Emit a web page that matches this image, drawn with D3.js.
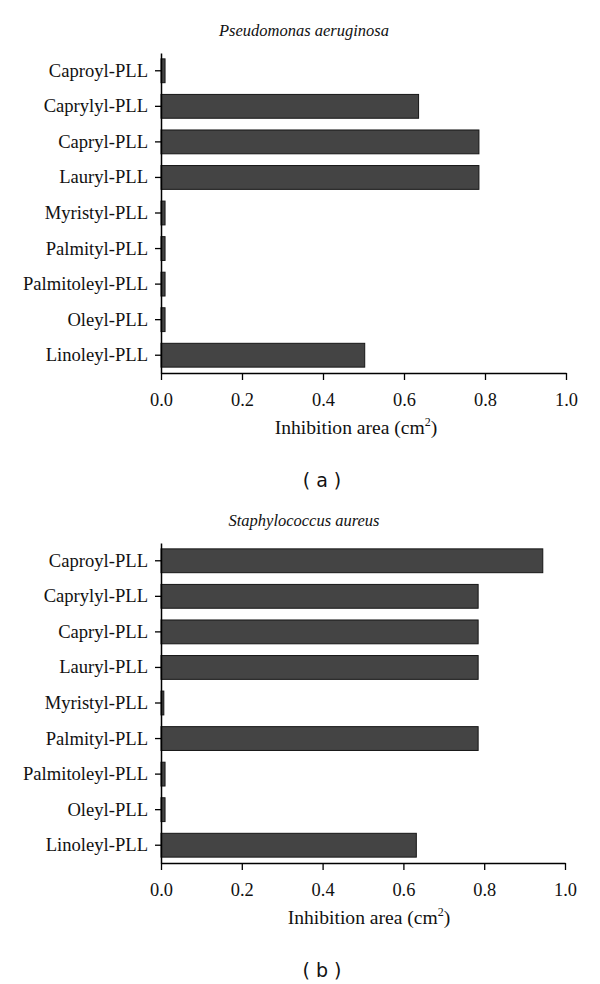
<!DOCTYPE html>
<html>
<head>
<meta charset="utf-8">
<script src="https://cdn.jsdelivr.net/npm/d3@7"></script>
<style>
  body { margin: 0; background: #fff; }
  svg { display: block; }
</style>
</head>
<body>
<div id="chart"></div>
<script>
  var categories = ['Caproyl-PLL', 'Caprylyl-PLL', 'Capryl-PLL', 'Lauryl-PLL', 'Myristyl-PLL',
    'Palmityl-PLL', 'Palmitoleyl-PLL', 'Oleyl-PLL', 'Linoleyl-PLL'];
  var valuesA = [0.01, 0.636, 0.785, 0.785, 0.01, 0.01, 0.01, 0.01, 0.503];
  var valuesB = [0.945, 0.785, 0.785, 0.785, 0.007, 0.785, 0.01, 0.01, 0.632];
  var xTicks = [0, 0.2, 0.4, 0.6, 0.8, 1.0];
  var titles = ['Pseudomonas aeruginosa', 'Staphylococcus aureus'];
  var captions = ['( a )', '( b )'];

  var serif = '"Liberation Serif", "DejaVu Serif", serif';

  var svg = d3.select('#chart')
    .append('svg')
    .attr('width', 600)
    .attr('height', 984);

  // one panel: top is the y position where the axis starts
  function drawPanel(values, title, caption, top, xRight, labelX) {
    var g = svg.append('g');
    var x = d3.scaleLinear().domain([0, 1]).range([161, xRight]);
    var y = d3.scaleBand()
      .domain(categories)
      .range([top, top + 320])
      .paddingInner(0.33)
      .paddingOuter(0.165);

    var rows = categories.map(function (c, i) { return { cat: c, val: values[i] }; });

    g.append('text')
      .attr('x', 304)
      .attr('y', top - 17)
      .attr('text-anchor', 'middle')
      .style('font-family', serif)
      .style('font-style', 'italic')
      .style('font-size', '16.5px')
      .attr('fill', '#111')
      .text(title);

    g.selectAll('.bar')
      .data(rows)
      .enter()
      .append('rect')
      .attr('class', 'bar')
      .attr('x', x(0))
      .attr('y', function (d) { return y(d.cat); })
      .attr('width', function (d) { return x(d.val) - x(0); })
      .attr('height', y.bandwidth())
      .attr('fill', '#444')
      .attr('stroke', '#161616')
      .attr('stroke-width', 1);

    var yAxis = g.append('g')
      .attr('transform', 'translate(' + x(0) + ',0)')
      .call(d3.axisLeft(y).tickSize(6).tickPadding(7).tickSizeOuter(0));
    yAxis.select('.domain').attr('stroke-width', 1.5);
    yAxis.selectAll('line').attr('stroke-width', 1.3);
    yAxis.selectAll('text')
      .style('font-family', serif)
      .style('font-size', '18.6px')
      .attr('fill', '#111');

    var xAxis = g.append('g')
      .attr('transform', 'translate(0,' + (top + 320) + ')')
      .call(d3.axisBottom(x).tickValues(xTicks).tickFormat(d3.format('.1f'))
        .tickSize(7).tickPadding(13).tickSizeOuter(0));
    xAxis.select('.domain').attr('stroke-width', 1.5);
    xAxis.selectAll('line').attr('stroke-width', 1.3);
    xAxis.selectAll('text')
      .style('font-family', serif)
      .style('font-size', '18.4px')
      .attr('fill', '#111');

    var lab = g.append('text')
      .attr('x', labelX)
      .attr('y', top + 381)
      .attr('text-anchor', 'middle')
      .style('font-family', serif)
      .style('font-size', '19.6px')
      .attr('fill', '#111');
    lab.append('tspan').text('Inhibition area (cm');
    lab.append('tspan').attr('dy', -8).style('font-size', '12px').text('2');
    lab.append('tspan').attr('dy', 8).text(')');

    g.append('text')
      .attr('x', 322)
      .attr('y', top + 434)
      .attr('text-anchor', 'middle')
      .style('font-family', '"DejaVu Sans", sans-serif')
      .style('font-size', '19px')
      .attr('fill', '#111')
      .text(caption);
  }

  drawPanel(valuesA, titles[0], captions[0], 53, 566, 356);
  drawPanel(valuesB, titles[1], captions[1], 543, 565, 369);
</script>
</body>
</html>
